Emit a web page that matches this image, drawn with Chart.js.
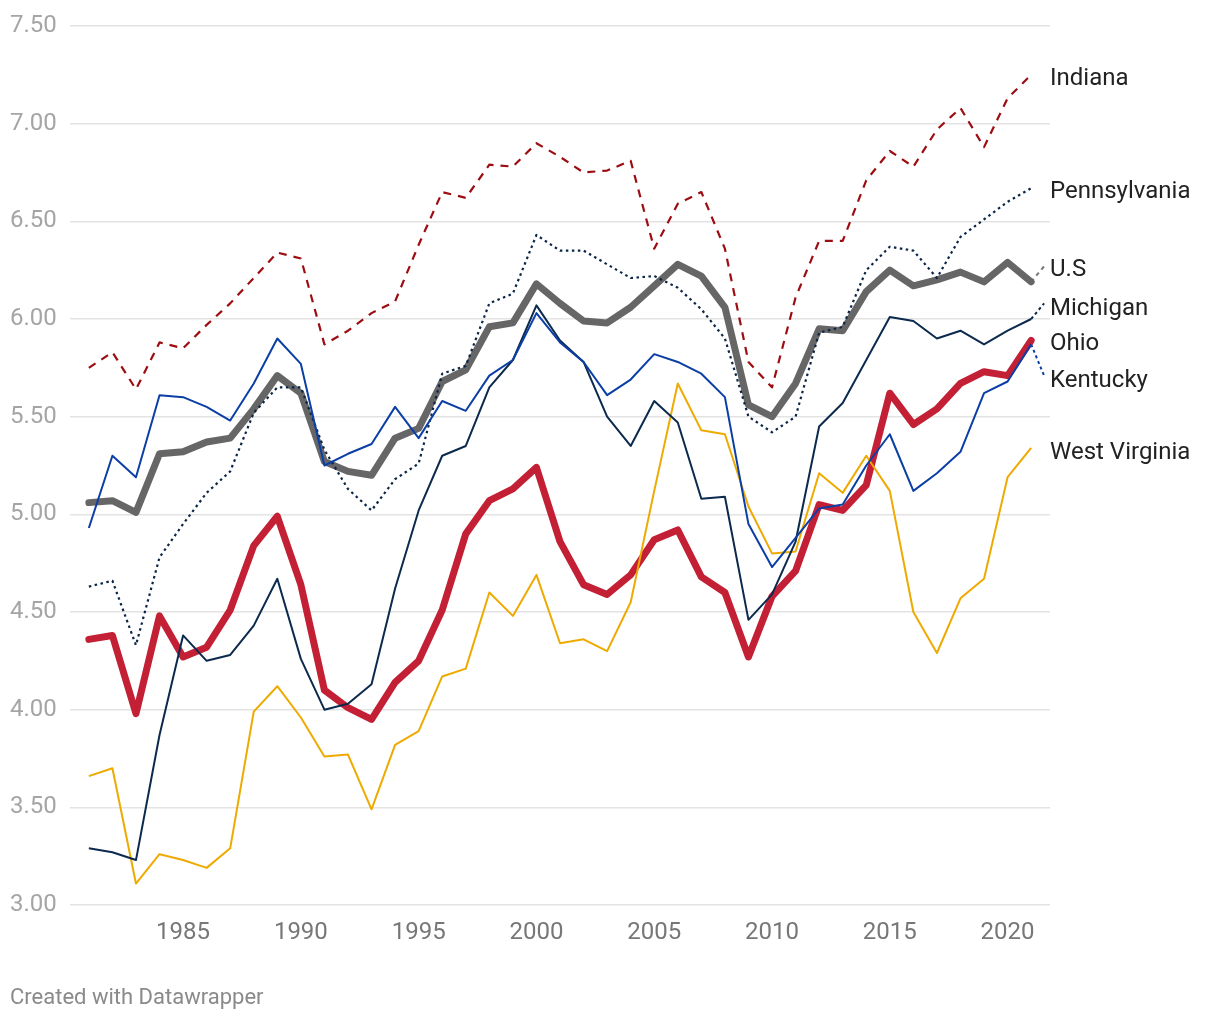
<!DOCTYPE html>
<html>
<head>
<meta charset="utf-8">
<script src="https://cdn.jsdelivr.net/npm/chart.js@4/dist/chart.umd.min.js"></script>
<style>
  html, body { margin: 0; padding: 0; background: #fff; }
  #wrap { position: relative; width: 1220px; height: 1020px; }
  #footer { position: absolute; left: 10px; top: 983px; font-family: Roboto, sans-serif; font-size: 22px; line-height: 28px; color: #8a8a8a; }
</style>
</head>
<body>
<div id="wrap">
  <canvas id="c" width="1220" height="1020"></canvas>
  <div id="footer">Created with Datawrapper</div>
</div>
<script>
const years = [1981,1982,1983,1984,1985,1986,1987,1988,1989,1990,1991,1992,1993,1994,1995,1996,1997,1998,1999,2000,2001,2002,2003,2004,2005,2006,2007,2008,2009,2010,2011,2012,2013,2014,2015,2016,2017,2018,2019,2020,2021];

const indiana = [5.75,5.83,5.64,5.88,5.85,5.97,6.08,6.21,6.34,6.31,5.87,5.94,6.03,6.09,6.38,6.65,6.62,6.79,6.78,6.90,6.83,6.75,6.76,6.81,6.36,6.59,6.65,6.36,5.78,5.65,6.11,6.40,6.40,6.71,6.86,6.78,6.97,7.08,6.88,7.13,7.25];
const pennsylvania = [4.63,4.66,4.33,4.78,4.95,5.11,5.22,5.52,5.65,5.65,5.33,5.13,5.02,5.18,5.26,5.72,5.76,6.08,6.13,6.43,6.35,6.35,6.28,6.21,6.22,6.16,6.05,5.90,5.50,5.42,5.50,5.93,5.96,6.25,6.37,6.35,6.21,6.42,6.51,6.60,6.67];
const us = [5.06,5.07,5.01,5.31,5.32,5.37,5.39,5.54,5.71,5.62,5.27,5.22,5.20,5.39,5.44,5.68,5.74,5.96,5.98,6.18,6.08,5.99,5.98,6.06,6.17,6.28,6.22,6.06,5.56,5.50,5.67,5.95,5.94,6.14,6.25,6.17,6.20,6.24,6.19,6.29,6.19];
const michigan = [3.29,3.27,3.23,3.87,4.38,4.25,4.28,4.43,4.67,4.26,4.00,4.03,4.13,4.62,5.02,5.30,5.35,5.65,5.79,6.07,5.89,5.78,5.50,5.35,5.58,5.47,5.08,5.09,4.46,4.59,4.86,5.45,5.57,5.79,6.01,5.99,5.90,5.94,5.87,5.94,6.00];
const ohio = [4.36,4.38,3.98,4.48,4.27,4.32,4.51,4.84,4.99,4.64,4.10,4.01,3.95,4.14,4.25,4.51,4.90,5.07,5.13,5.24,4.86,4.64,4.59,4.69,4.87,4.92,4.68,4.60,4.27,4.58,4.71,5.05,5.02,5.15,5.62,5.46,5.54,5.67,5.73,5.71,5.89];
const kentucky = [4.93,5.30,5.19,5.61,5.60,5.55,5.48,5.67,5.90,5.77,5.25,5.31,5.36,5.55,5.39,5.58,5.53,5.71,5.79,6.03,5.88,5.78,5.61,5.69,5.82,5.78,5.72,5.60,4.95,4.73,4.88,5.03,5.05,5.25,5.41,5.12,5.21,5.32,5.62,5.68,5.87];
const westVirginia = [3.66,3.70,3.11,3.26,3.23,3.19,3.29,3.99,4.12,3.96,3.76,3.77,3.49,3.82,3.89,4.17,4.21,4.60,4.48,4.69,4.34,4.36,4.30,4.55,5.12,5.67,5.43,5.41,5.04,4.80,4.81,5.21,5.11,5.30,5.12,4.50,4.29,4.57,4.67,5.19,5.34];

// label connector stubs (from last value toward the label)
const connectorYears = [2021, 2021.55];
const usConnector = [6.19, 6.27];
const michiganConnector = [6.00, 6.08];
const kentuckyConnector = [5.87, 5.71];

const xTicks = [1985,1990,1995,2000,2005,2010,2015,2020];
const yTicks = [3.0,3.5,4.0,4.5,5.0,5.5,6.0,6.5,7.0,7.5];

const seriesNames = ["Indiana","Pennsylvania","U.S","Michigan","Ohio","Kentucky","West Virginia"];
const labelValues = [7.23, 6.65, 6.25, 6.05, 5.87, 5.685, 5.315];

const pts = (xs, ys) => ys.map((v, i) => ({x: xs[i], y: v}));

const base = { pointRadius: 0, pointHoverRadius: 0, tension: 0, fill: false, borderJoinStyle: 'round' };

const datasets = [
  Object.assign({}, base, { label: 'Kentucky', data: pts(years, kentucky), borderColor: '#0b3fa5', borderWidth: 2, order: 1 }),
  Object.assign({}, base, { label: 'Michigan', data: pts(years, michigan), borderColor: '#0b2a4d', borderWidth: 2, order: 2 }),
  Object.assign({}, base, { label: 'Pennsylvania', data: pts(years, pennsylvania), borderColor: '#0b2546', borderWidth: 2.2, borderDash: [2.5, 3.5], order: 3 }),
  Object.assign({}, base, { label: 'Indiana', data: pts(years, indiana), borderColor: '#9c0d12', borderWidth: 2.2, borderDash: [8, 7], order: 4 }),
  Object.assign({}, base, { label: 'West Virginia', data: pts(years, westVirginia), borderColor: '#eeaa00', borderWidth: 2, order: 5 }),
  Object.assign({}, base, { label: 'Ohio', data: pts(years, ohio), borderColor: '#c32035', borderWidth: 7, borderCapStyle: 'round', order: 6 }),
  Object.assign({}, base, { label: 'U.S', data: pts(years, us), borderColor: '#666666', borderWidth: 7, borderCapStyle: 'round', order: 7 }),
  Object.assign({}, base, { label: 'usC', data: pts(connectorYears, usConnector), borderColor: '#777777', borderWidth: 2, borderDash: [4, 4], order: 8 }),
  Object.assign({}, base, { label: 'miC', data: pts(connectorYears, michiganConnector), borderColor: '#0b2a4d', borderWidth: 2, borderDash: [3, 3], order: 8 }),
  Object.assign({}, base, { label: 'kyC', data: pts(connectorYears, kentuckyConnector), borderColor: '#0b3fa5', borderWidth: 2, borderDash: [3, 3], order: 8 })
];

const rightLabels = {
  id: 'rightLabels',
  afterDatasetsDraw(chart) {
    const ctx = chart.ctx;
    const ys = chart.scales.y;
    const x = chart.chartArea.right;
    ctx.save();
    ctx.font = '24px Roboto, sans-serif';
    ctx.fillStyle = '#222222';
    ctx.textAlign = 'left';
    ctx.textBaseline = 'middle';
    seriesNames.forEach((n, i) => {
      ctx.fillText(n, x, ys.getPixelForValue(labelValues[i]));
    });
    ctx.restore();
  }
};

new Chart(document.getElementById('c'), {
  type: 'line',
  data: { datasets },
  options: {
    responsive: false,
    animation: false,
    layout: { padding: { left: 10, right: 170, top: 26, bottom: 55 } },
    plugins: { legend: { display: false }, tooltip: { enabled: false } },
    scales: {
      x: {
        type: 'linear',
        min: 1980.2,
        max: 2021.8,
        afterBuildTicks: (s) => { s.ticks = xTicks.map(v => ({ value: v })); },
        afterFit: (s) => { s.height = 60; },
        grid: { display: false, drawTicks: false },
        border: { display: false },
        ticks: { color: '#777777', font: { family: 'Roboto', size: 24 }, padding: 14, maxRotation: 0, callback: (v) => String(v) }
      },
      y: {
        min: 3,
        max: 7.5,
        afterBuildTicks: (s) => { s.ticks = yTicks.map(v => ({ value: v })); },
        afterFit: (s) => { s.width = 60; },
        grid: { color: '#e3e3e3', lineWidth: 1.5, drawTicks: false },
        border: { display: false },
        ticks: { color: '#a5a5a5', font: { family: 'Roboto', size: 24 }, crossAlign: 'far', padding: 0, callback: (v) => Number(v).toFixed(2) }
      }
    }
  },
  plugins: [rightLabels]
});
</script>
</body>
</html>
